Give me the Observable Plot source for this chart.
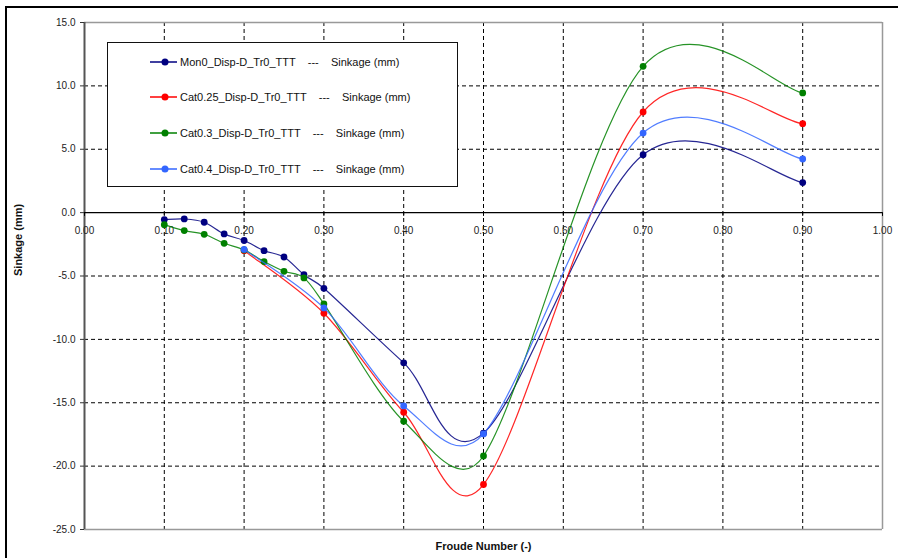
<!DOCTYPE html>
<html>
<head>
<meta charset="utf-8">
<script src="https://cdn.jsdelivr.net/npm/d3@7"></script>
<script src="https://cdn.jsdelivr.net/npm/@observablehq/plot@0.6"></script>
<style>
  html, body { margin: 0; padding: 0; background: #fff; }
  #wrap { position: relative; width: 898px; height: 558px; overflow: hidden; font-family: "Liberation Sans", Arial, sans-serif; }
  #frame { position: absolute; left: 5px; top: 6px; right: -10px; bottom: -10px; border-left: 2px solid #000; border-top: 2px solid #000; pointer-events: none; }
  #legend { position: absolute; left: 107px; top: 42px; width: 351px; height: 145px; box-sizing: border-box; border: 1.5px solid #111; background: #fff; }
  .row { position: absolute; left: 42px; height: 14px; display: flex; align-items: center; font-size: 11px; color: #111; white-space: pre; }
  .row svg { margin-right: 2px; }
</style>
</head>
<body>
<div id="wrap"><div id="frame"></div></div>
<script>
// Data
const seriesNames = ["Mon0_Disp-D_Tr0_TTT", "Cat0.25_Disp-D_Tr0_TTT", "Cat0.3_Disp-D_Tr0_TTT", "Cat0.4_Disp-D_Tr0_TTT"];
const seriesColors = ["#000080", "#ff0000", "#008000", "#3366ff"];
const froudeDense = [0.10, 0.125, 0.15, 0.175, 0.20, 0.225, 0.25, 0.275, 0.30, 0.40, 0.50, 0.70, 0.90];
const froudeSparse = [0.20, 0.30, 0.40, 0.50, 0.70, 0.90];
const mon0 = [-0.55, -0.5, -0.76, -1.68, -2.2, -3.0, -3.5, -4.9, -5.97, -11.85, -17.4, 4.57, 2.37];
const cat025 = [-3.0, -7.94, -15.75, -21.45, 7.94, 7.02];
const cat03 = [-0.95, -1.42, -1.71, -2.42, -2.94, -3.86, -4.63, -5.15, -7.2, -16.46, -19.2, 11.54, 9.44];
const cat04 = [-2.9, -7.52, -15.25, -17.46, 6.28, 4.23];
const xTicks = [0, 0.1, 0.2, 0.3, 0.4, 0.5, 0.6, 0.7, 0.8, 0.9, 1.0];
const xGrid = [0.1, 0.2, 0.3, 0.4, 0.5, 0.6, 0.7, 0.8, 0.9];
const yTicks = [15, 10, 5, 0, -5, -10, -15, -20, -25];
const yGrid = [10, 5, -5, -10, -15, -20];

const seriesX = [froudeDense, froudeSparse, froudeDense, froudeSparse];
const seriesY = [mon0, cat025, cat03, cat04];
const rows = [];
seriesNames.forEach((name, i) => {
  seriesX[i].forEach((x, j) => rows.push({series: name, x, y: seriesY[i][j], color: seriesColors[i]}));
});

// Spreadsheet-style smoothed Bezier curve (tangent 1/6, control vectors clamped to half the segment)
function smoothCurve(context) {
  let pts;
  return {
    areaStart() {}, areaEnd() {},
    lineStart() { pts = []; },
    point(x, y) { pts.push([+x, +y]); },
    lineEnd() {
      const n = pts.length;
      if (!n) return;
      context.moveTo(pts[0][0], pts[0][1]);
      if (n === 1) return;
      const f0 = 1 / 6;
      for (let i = 0; i < n - 1; i++) {
        const p0 = pts[Math.max(i - 1, 0)], p1 = pts[i], p2 = pts[i + 1], p3 = pts[Math.min(i + 2, n - 1)];
        const d12 = Math.hypot(p2[0] - p1[0], p2[1] - p1[1]);
        const d02 = Math.hypot(p2[0] - p0[0], p2[1] - p0[1]);
        const d13 = Math.hypot(p3[0] - p1[0], p3[1] - p1[1]);
        const f1 = d02 * f0 > d12 / 2 ? d12 / (2 * d02) : f0;
        const f2 = d13 * f0 > d12 / 2 ? d12 / (2 * d13) : f0;
        context.bezierCurveTo(
          p1[0] + (p2[0] - p0[0]) * f1, p1[1] + (p2[1] - p0[1]) * f1,
          p2[0] - (p3[0] - p1[0]) * f2, p2[1] - (p3[1] - p1[1]) * f2,
          p2[0], p2[1]);
      }
    }
  };
}

const seriesMarks = seriesNames.flatMap((name, i) => {
  const d = rows.filter(r => r.series === name);
  return [
    Plot.line(d, {x: "x", y: "y", stroke: seriesColors[i], strokeWidth: 1.2, strokeOpacity: 0.85, curve: smoothCurve}),
    Plot.dot(d, {x: "x", y: "y", fill: seriesColors[i], r: 3.4})
  ];
});

const chart = Plot.plot({
  width: 898,
  height: 558,
  marginLeft: 84,
  marginTop: 22,
  marginRight: 16,
  marginBottom: 29,
  x: {domain: [0, 1], axis: null},
  y: {domain: [-25, 15]},
  style: {fontFamily: "'Liberation Sans', Arial, sans-serif", fontSize: "10px", background: "transparent", color: "#222"},
  marks: [
    Plot.ruleX(xGrid, {stroke: "#000", strokeDasharray: "4,3", strokeWidth: 1}),
    Plot.ruleY(yGrid, {stroke: "#000", strokeDasharray: "4,3", strokeWidth: 1}),
    Plot.ruleY([15, -25], {stroke: "#999", strokeWidth: 1.5}),
    Plot.ruleX([1], {stroke: "#999", strokeWidth: 1.5}),
    Plot.ruleX([0], {stroke: "#555", strokeWidth: 2}),
    Plot.ruleY([0], {stroke: "#000", strokeWidth: 1.2}),
    Plot.ruleX(xTicks, {x: d => d, y1: 0, y2: -0.3, stroke: "#000"}),
    Plot.text(xTicks, {x: d => d, y: 0, dy: 18, text: d => d.toFixed(2), fill: "#222", fontSize: 10}),
    Plot.axisY({ticks: yTicks, tickFormat: d => d.toFixed(1), tickSize: 4, tickPadding: 5, label: null, fontSize: 10, stroke: "#333"}),
    ...seriesMarks,
    Plot.text(["Sinkage (mm)"], {frameAnchor: "left", dx: -66, rotate: -90, fontWeight: "bold", fontSize: 11, fill: "#111"}),
    Plot.text(["Froude Number (-)"], {frameAnchor: "bottom", dy: 20, fontWeight: "bold", fontSize: 11, fill: "#111"})
  ]
});
chart.style.position = "absolute";
chart.style.left = "0px";
chart.style.top = "0px";
const wrap = document.getElementById("wrap");
wrap.appendChild(chart);

// Legend
const legend = document.createElement("div");
legend.id = "legend";
const rowTops = [12, 47, 82.5, 118.5];
seriesNames.forEach((name, i) => {
  const row = document.createElement("div");
  row.className = "row";
  row.style.top = rowTops[i] + "px";
  row.innerHTML = `<svg width="28" height="10"><line x1="0" y1="5" x2="27" y2="5" stroke="${seriesColors[i]}" stroke-width="1.5"/><circle cx="15" cy="5" r="3.5" fill="${seriesColors[i]}"/></svg><span>${name}    ---    Sinkage (mm)</span>`;
  legend.appendChild(row);
});
wrap.appendChild(legend);
</script>
</body>
</html>
